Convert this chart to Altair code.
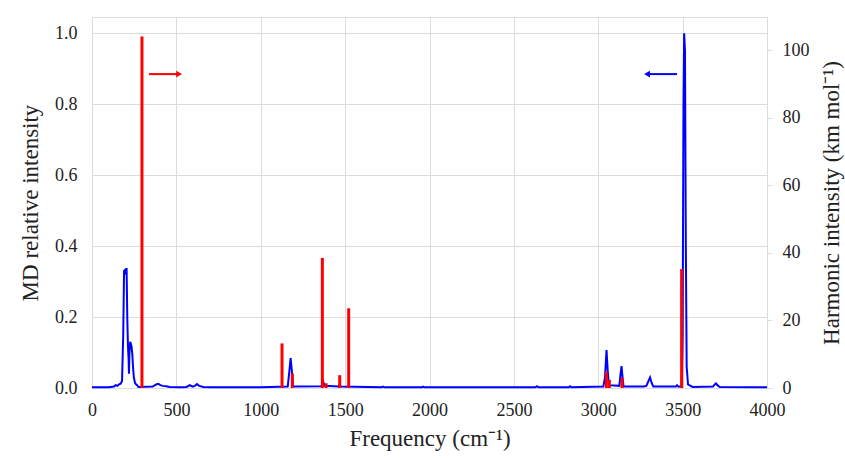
import altair as alt
import pandas as pd

# MD spectrum (blue), relative intensity
md_freq = [0, 100, 130, 140, 150, 160, 170, 178, 185, 190, 196, 200, 205, 209, 213, 217, 219, 222, 226, 230, 234, 239, 243, 248, 255, 262, 268, 275,
           360, 380, 393, 405, 420, 440, 460, 520, 560, 580, 595, 610, 622, 635, 660, 700,
           1000, 1160, 1170, 1177, 1184, 1192, 1360, 1370, 1378, 1460, 1466, 1474, 1715, 1724, 1733, 1955, 1962, 1970,
           2628, 2637, 2646, 2825, 2833, 2841,
           3030, 3040, 3049, 3056, 3063, 3125, 3132, 3138, 3144, 3150, 3270, 3285, 3298, 3307, 3316, 3326,
           3460, 3467, 3475, 3495, 3500, 3505, 3509, 3514, 3519, 3524, 3532, 3544, 3560, 3680, 3690, 3698, 3706, 3720, 4000]
md_int = [0.002, 0.002, 0.004, 0.008, 0.006, 0.010, 0.012, 0.020, 0.150, 0.330, 0.333, 0.320, 0.338, 0.200, 0.120, 0.080, 0.040, 0.100, 0.130, 0.125, 0.118, 0.095, 0.060, 0.030, 0.014, 0.010, 0.008, 0.003,
          0.004, 0.010, 0.012, 0.008, 0.006, 0.005, 0.003, 0.002, 0.003, 0.008, 0.004, 0.006, 0.011, 0.006, 0.003, 0.002,
          0.002, 0.004, 0.050, 0.084, 0.050, 0.004, 0.005, 0.018, 0.006, 0.004, 0.010, 0.004, 0.002, 0.004, 0.002, 0.002, 0.004, 0.002,
          0.002, 0.005, 0.002, 0.002, 0.005, 0.002,
          0.004, 0.030, 0.107, 0.050, 0.008, 0.006, 0.040, 0.062, 0.030, 0.004, 0.004, 0.006, 0.020, 0.030, 0.015, 0.004,
          0.004, 0.008, 0.004, 0.005, 0.150, 0.800, 1.000, 0.950, 0.400, 0.060, 0.010, 0.007, 0.003, 0.004, 0.010, 0.013, 0.008, 0.003, 0.002]

# Harmonic sticks (red), km/mol
h_freq = [296, 1126, 1187, 1365, 1387, 1468, 1521, 3048, 3066, 3141, 3494]
h_int = [104, 13.2, 4.3, 38.5, 1.4, 3.8, 23.6, 4.8, 2.4, 3.0, 35.2]

# Arrows (annotation)
arrow_x_start = [338, 3467]
arrow_x_end = [516, 3289]
arrow_y = [0.885, 0.885]
arrow_color = ["#ff0000", "#0000ff"]
arrow_shape = ["triangle-right", "triangle-left"]

FONT = "Times New Roman, Liberation Serif, serif"
GRID = "#dcdcdc"
LBL = 18
TTL = 23

md = pd.DataFrame({"f": md_freq, "i": md_int})
harm = pd.DataFrame({"f": h_freq, "h": h_int, "z": [0] * len(h_freq)})
arr = pd.DataFrame({"x": arrow_x_start, "x2": arrow_x_end, "y": arrow_y,
                    "c": arrow_color, "s": arrow_shape})

xscale = alt.Scale(domain=[0, 4000], nice=False, zero=False, padding=0)
xaxis = alt.Axis(values=list(range(0, 4001, 500)), format="d", title="Frequency (cm⁻¹)",
                 grid=True, gridColor=GRID, domainColor=GRID, ticks=False, labelFlush=False,
                 labelFont=FONT, labelFontSize=LBL, labelColor="#222", labelPadding=13,
                 titleFont=FONT, titleFontSize=TTL, titleFontWeight="normal", titleColor="#222",
                 titlePadding=8)
lscale = alt.Scale(domain=[0, 1.046], nice=False, padding=0)
rscale = alt.Scale(domain=[0, 109.8], nice=False, padding=0)

blue = alt.Chart(md).mark_line(color="#0000ff", strokeWidth=2).encode(
    x=alt.X("f:Q", scale=xscale, axis=xaxis),
    y=alt.Y("i:Q", scale=lscale,
            axis=alt.Axis(values=[0, 0.2, 0.4, 0.6, 0.8, 1.0], format=".1f", title="MD relative intensity",
                          orient="left", grid=True, gridColor=GRID, domainColor=GRID, ticks=False,
                          labelFont=FONT, labelFontSize=LBL, labelColor="#222", labelPadding=15,
                          titleFont=FONT, titleFontSize=TTL, titleFontWeight="normal", titleColor="#222",
                          titlePadding=12)),
)

red = alt.Chart(harm).mark_rule(color="#ff0000", strokeWidth=3).encode(
    x=alt.X("f:Q", scale=xscale),
    y=alt.Y("h:Q", scale=rscale,
            axis=alt.Axis(values=[0, 20, 40, 60, 80, 100], title="Harmonic intensity (km mol⁻¹)",
                          orient="right", grid=False, domainColor=GRID, ticks=True, tickColor=GRID, tickSize=5,
                          labelFont=FONT, labelFontSize=LBL, labelColor="#222", labelPadding=10,
                          titleFont=FONT, titleFontSize=TTL, titleFontWeight="normal", titleColor="#222",
                          titlePadding=34, titleAngle=270, titleBaseline="bottom")),
    y2="z:Q",
)

arrow_lines = alt.Chart(arr).mark_rule(strokeWidth=2).encode(
    x=alt.X("x:Q", scale=xscale),
    x2="x2:Q",
    y=alt.Y("y:Q", scale=lscale, axis=None),
    color=alt.Color("c:N", scale=None),
)
arrow_heads = alt.Chart(arr).mark_point(filled=True, size=45, opacity=1).encode(
    x=alt.X("x2:Q", scale=xscale),
    y=alt.Y("y:Q", scale=lscale, axis=None),
    color=alt.Color("c:N", scale=None),
    shape=alt.Shape("s:N", scale=None),
)

chart = alt.layer(blue, red, arrow_lines, arrow_heads).resolve_scale(y="independent").properties(
    width=675, height=371,
    autosize=alt.AutoSizeParams(type="none"),
    padding={"left": 92, "top": 17, "right": 78, "bottom": 70},
).configure_view(stroke=None).configure(background="white")

chart.save("out.html", embed_options={"renderer": "svg", "actions": False})
